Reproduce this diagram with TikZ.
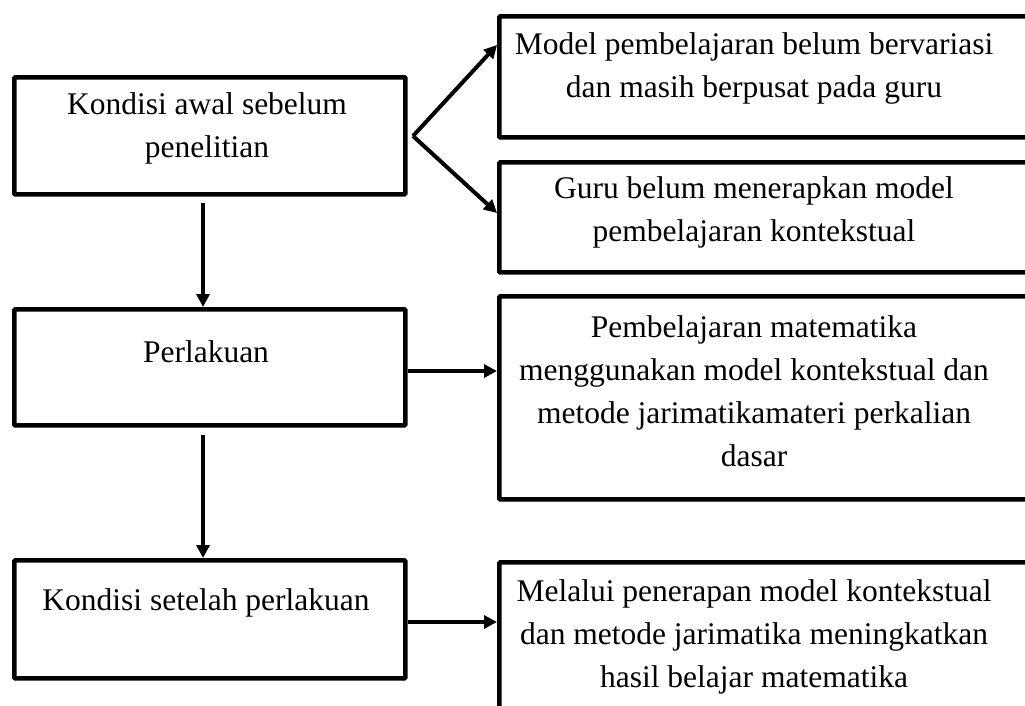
\documentclass[tikz,border=0pt]{standalone}
\usepackage{fontspec}
\setmainfont{Liberation Serif}
\usetikzlibrary{arrows.meta}
\begin{document}
\begin{tikzpicture}[x=1pt,y=-1pt,
  box/.style={draw=black, line width=4.6pt, rounded corners=1pt, anchor=north west, inner sep=0pt},
  txt/.style={align=center, font=\fontsize{31.5}{43}\selectfont, inner sep=0pt},
  conn/.style={line width=4pt, -{Triangle[length=13pt,width=13pt]}}]
\useasboundingbox (0,0) rectangle (1025,705);
\clip (0,0) rectangle (1025,705);
% left boxes
\node[box, minimum width=391pt, minimum height=117pt] (k1) at (12,75) {};
\node[box, minimum width=391pt, minimum height=116pt] (k2) at (12,307) {};
\node[box, minimum width=391pt, minimum height=118pt] (k3) at (12,558) {};
\node[txt] (t1) at (207,128) {Kondisi awal sebelum\\penelitian};
\node[txt] (t2) at (206,352) {Perlakuan};
\node[txt] (t3) at (206,603) {Kondisi setelah perlakuan};
% right boxes
\node[box, minimum width=560pt, minimum height=121pt] (r1) at (497,14) {};
\node[box, minimum width=560pt, minimum height=110pt] (r2) at (497,160) {};
\node[box, minimum width=560pt, minimum height=203pt] (r3) at (497,294) {};
\node[box, minimum width=560pt, minimum height=170pt] (r4) at (497,560) {};
\node[txt] (s1) at (754,68) {Model pembelajaran belum bervariasi\\dan masih berpusat pada guru};
\node[txt] (s2) at (754,212) {Guru belum menerapkan model\\pembelajaran kontekstual};
\node[txt] (s3) at (754,391) {Pembelajaran matematika\\menggunakan model kontekstual dan\\metode jarimatikamateri perkalian\\dasar};
\node[txt] (s4) at (754,637) {Melalui penerapan model kontekstual\\dan metode jarimatika meningkatkan\\hasil belajar matematika};
% connectors
\coordinate (fork) at (413,136);
\coordinate (a1s) at (203,203);
\coordinate (a2s) at (203,435);
\draw[conn] (fork) -- (r1.west |- 0,45);
\draw[conn] (fork) -- (r2.west |- 0,213);
\draw[conn] (a1s) -- (a1s |- k2.north);
\draw[conn] (a2s) -- (a2s |- k3.north);
\draw[conn] (k2.east |- 0,371) -- (r3.west |- 0,371);
\draw[conn] (k3.east |- 0,622) -- (r4.west |- 0,622);
\end{tikzpicture}
\end{document}
